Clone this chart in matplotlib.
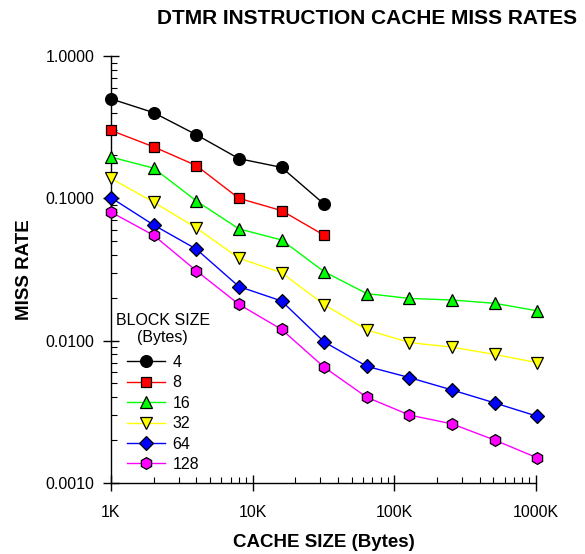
import matplotlib
matplotlib.use("Agg")
import matplotlib.pyplot as plt
from matplotlib.ticker import LogLocator, FixedLocator, NullFormatter

plt.rcParams['font.family'] = ['Liberation Sans', 'DejaVu Sans']

# Cache sizes in KB
cache_kb = [1, 2, 4, 8, 16, 32, 64, 128, 256, 512, 1024]

# Miss rates per block size (bytes)
miss_4 = [0.50, 0.40, 0.28, 0.19, 0.165, 0.091]
miss_8 = [0.30, 0.23, 0.17, 0.10, 0.082, 0.055]
miss_16 = [0.195, 0.163, 0.096, 0.061, 0.051, 0.0305, 0.0214, 0.0198, 0.0193, 0.0183, 0.0162]
miss_32 = [0.138, 0.094, 0.062, 0.038, 0.030, 0.0179, 0.0119, 0.0097, 0.0090, 0.0080, 0.0070]
miss_64 = [0.101, 0.065, 0.044, 0.024, 0.019, 0.0098, 0.0066, 0.0055, 0.0045, 0.00365, 0.00294]
miss_128 = [0.080, 0.055, 0.031, 0.018, 0.012, 0.0065, 0.0040, 0.0030, 0.0026, 0.0020, 0.0015]

block_labels = ['4', '8', '16', '32', '64', '128']
series = [miss_4, miss_8, miss_16, miss_32, miss_64, miss_128]
colors = ['#000000', '#ff0000', '#00ff00', '#ffff00', '#0000ff', '#ff00ff']
markers = ['o', 's', '^', 'v', 'D', 'h']
msizes = [8.5, 7.5, 8.5, 8.5, 7.5, 8.5]

x_ticks = [1, 10, 100, 1000]
x_ticklabels = ['1K', '10K', '100K', '1000K']
y_ticks = [0.001, 0.01, 0.1, 1.0]
y_ticklabels = ['0.0010', '0.0100', '0.1000', '1.0000']

fig = plt.figure(figsize=(5.85, 5.54), dpi=100)
ax = fig.add_axes([0.1897, 0.1282, 0.9162 - 0.1897, 0.8989 - 0.1282])

for vals, lab, col, mk, ms in zip(series, block_labels, colors, markers, msizes):
    ax.plot(cache_kb[:len(vals)], vals, color=col, lw=1.0, marker=mk,
            markersize=ms, markerfacecolor=col, markeredgecolor='black',
            markeredgewidth=0.9, label=lab, clip_on=False, zorder=3)

ax.set_xscale('log')
ax.set_yscale('log')
ax.set_xlim(1, 1000)
ax.set_ylim(0.001, 1.0)

ax.xaxis.set_major_locator(FixedLocator(x_ticks))
ax.set_xticklabels(x_ticklabels)
ax.yaxis.set_major_locator(FixedLocator(y_ticks))
ax.set_yticklabels(y_ticklabels)
ax.xaxis.set_minor_locator(LogLocator(base=10, subs=range(2, 10), numticks=20))
ax.yaxis.set_minor_locator(LogLocator(base=10, subs=range(2, 10), numticks=20))
ax.xaxis.set_minor_formatter(NullFormatter())
ax.yaxis.set_minor_formatter(NullFormatter())

ax.tick_params(which='major', direction='inout', length=11.5, width=1.0,
               labelsize=11.5, color='black')
ax.tick_params(which='minor', direction='in', length=4, width=0.8, color='black')
ax.tick_params(axis='x', which='major', pad=10)
ax.tick_params(axis='y', which='major', pad=6)

for s in ['top', 'right']:
    ax.spines[s].set_visible(False)
for s in ['left', 'bottom']:
    ax.spines[s].set_linewidth(1.0)

ax.set_xlabel('CACHE SIZE (Bytes)', fontsize=13.5, fontweight='bold', labelpad=10)
ax.set_ylabel('MISS RATE', fontsize=13.5, fontweight='bold', labelpad=9)

fig.text(0.628, 0.967, 'DTMR INSTRUCTION CACHE MISS RATES', fontsize=15,
         fontweight='bold', ha='center', va='center')

leg = ax.legend(loc='upper left', bbox_to_anchor=(0.0, 0.41), frameon=False,
                title='BLOCK SIZE\n(Bytes)', fontsize=11.5, title_fontsize=11.5,
                handlelength=2.4, handletextpad=0.45, labelspacing=0.34,
                borderaxespad=0.0, borderpad=0.3)
leg.get_title().set_multialignment('center')
leg._legend_box.sep = 7

fig.savefig('out.png', dpi=100)
